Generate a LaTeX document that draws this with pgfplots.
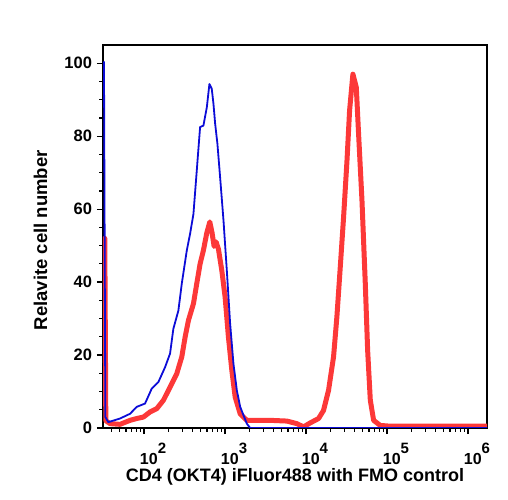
\documentclass[border=0pt]{standalone}
\usepackage{fontspec}
\setmainfont{Liberation Sans}
\usepackage{pgfplots}
\pgfplotsset{compat=1.18}

\definecolor{fmoblue}{RGB}{12,12,215}
\definecolor{cdred}{RGB}{252,56,56}

% decade label 10^n, exponent nearly as large as the base
\newcommand\decade[1]{\bfseries 10\raisebox{10.5bp}{\bfseries\fontsize{15bp}{15bp}\selectfont #1}}

% x in log10 units of fluorescence, y in relative cell number
\pgfplotstableread{
lx     y
1.505  100.5
1.522  3.0
1.559  1.6
1.703  2.6
1.827  3.9
1.910  5.8
2.012  6.7
2.095  10.8
2.177  12.6
2.260  16.7
2.321  20.4
2.362  27.2
2.424  32.2
2.466  39.6
2.528  48.7
2.569  53.3
2.610  58.7
2.651  70.6
2.692  82.5
2.733  82.9
2.775  87.9
2.807  94.3
2.836  93.0
2.857  88.9
2.878  83.4
2.906  77.9
2.939  68.8
2.981  56.9
3.022  43.2
3.063  28.6
3.104  17.6
3.146  10.3
3.187  5.8
3.269  1.2
3.310  0
6.300  0
}\fmodata

\pgfplotstableread{
lx     y
1.515  52.0
1.528  2.0
1.580  1.2
1.703  1.0
1.827  2.1
1.910  2.6
1.992  3.0
2.074  4.4
2.157  5.3
2.239  7.6
2.321  11.2
2.404  14.9
2.466  19.5
2.507  24.9
2.548  29.5
2.610  34.1
2.651  39.6
2.692  45.0
2.733  48.7
2.775  53.5
2.812  56.5
2.840  53.5
2.865  49.8
2.890  51.0
2.919  49.0
2.960  43.2
3.001  35.9
3.042  24.9
3.084  15.8
3.125  8.5
3.187  3.9
3.269  2.1
3.393  2.1
3.557  2.1
3.764  1.9
3.887  1.2
3.969  0.3
4.052  1.4
4.155  2.6
4.216  4.8
4.278  10.3
4.340  19.5
4.381  30.4
4.423  44.1
4.464  57.8
4.506  73.3
4.538  87.0
4.579  97.0
4.621  93.4
4.649  80.7
4.691  62.4
4.732  39.6
4.761  21.3
4.794  7.6
4.835  2.1
4.917  0.7
5.040  0.5
6.300  0.5
}\cddata

\begin{document}
\begin{tikzpicture}
\path[use as bounding box] (-103bp,-72bp) rectangle (405bp,428bp);
\begin{axis}[
  scale only axis,
  width=384bp, height=383bp,
  xmin=1.493, xmax=6.235,
  ymin=0, ymax=105,
  axis line style={line width=1.2bp, black},
  tick align=outside,
  xtick pos=left, ytick pos=left,
  tick style={line width=1.2bp, black},
  major tick length=6bp,
  minor tick length=3.5bp,
  xtick={2,3,4,5,6},
  xticklabels={\decade{2},\decade{3},\decade{4},\decade{5},\decade{6}},
  minor xtick={1.60206,1.69897,1.77815,1.84510,1.90309,1.95424,
               2.30103,2.47712,2.60206,2.69897,2.77815,2.84510,2.90309,2.95424,
               3.30103,3.47712,3.60206,3.69897,3.77815,3.84510,3.90309,3.95424,
               4.30103,4.47712,4.60206,4.69897,4.77815,4.84510,4.90309,4.95424,
               5.30103,5.47712,5.60206,5.69897,5.77815,5.84510,5.90309,5.95424},
  ytick={0,20,40,60,80,100},
  yticklabels={0,20,40,60,80,100},
  minor ytick={5,10,15,25,30,35,45,50,55,65,70,75,85,90,95},
  xticklabel style={font=\bfseries\fontsize{16bp}{16bp}\selectfont,
                    anchor=base, xshift=9bp, yshift=-30bp},
  yticklabel style={font=\bfseries\fontsize{16.5bp}{16.5bp}\selectfont,
                    anchor=east, xshift=-1.5bp},
  xlabel={CD4 (OKT4) iFluor488 with FMO control},
  ylabel={Relavite cell number},
  xlabel style={font=\bfseries\fontsize{18bp}{18bp}\selectfont,
                at={(axis description cs:0.5,-0.1385)}, anchor=base},
  ylabel style={font=\bfseries\fontsize{18.5bp}{18.5bp}\selectfont,
                at={(axis description cs:-0.1458,0.49)}, anchor=base},
]
\addplot[cdred, line width=5bp, line join=round, line cap=round] table[x=lx, y=y] {\cddata};
\addplot[fmoblue, line width=1.8bp, line join=round] table[x=lx, y=y] {\fmodata};
\end{axis}
\end{tikzpicture}
\end{document}
